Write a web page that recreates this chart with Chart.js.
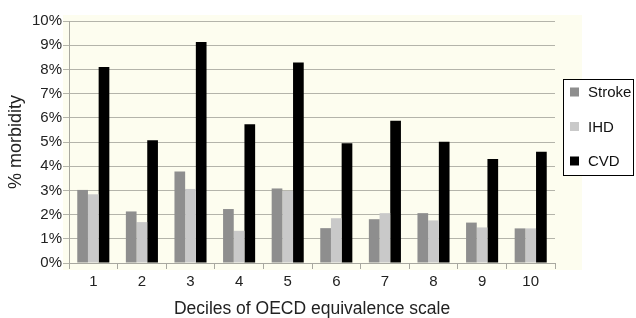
<!DOCTYPE html>
<html>
<head>
<meta charset="utf-8">
<script src="https://cdn.jsdelivr.net/npm/chart.js@4.4.1/dist/chart.umd.min.js"></script>
<style>
html,body{margin:0;padding:0;background:#fff;}
#wrap{width:636px;height:318px;position:relative;}
</style>
</head>
<body>
<div id="wrap"><canvas id="c" width="636" height="318"></canvas></div>
<script>
const categories = ['1','2','3','4','5','6','7','8','9','10'];
const strokeValues = [3.02, 2.13, 3.78, 2.23, 3.08, 1.44, 1.81, 2.06, 1.67, 1.43];
const ihdValues    = [2.84, 1.69, 3.06, 1.33, 2.98, 1.85, 2.06, 1.76, 1.47, 1.43];
const cvdValues    = [8.10, 5.07, 9.13, 5.73, 8.28, 4.95, 5.88, 5.01, 4.30, 4.60];
const seriesNames  = ['Stroke', 'IHD', 'CVD'];
const seriesColors = ['#8e8e8e', '#c9c9c9', '#000000'];
const yTicks = [0,1,2,3,4,5,6,7,8,9,10];

const FONT = '"Liberation Sans", Arial, Helvetica, sans-serif';

const panelBg = {
  id: 'panelBg',
  beforeDraw(chart) {
    const ctx = chart.ctx;
    const a = chart.chartArea;
    ctx.save();
    ctx.fillStyle = '#fdfdef';
    ctx.fillRect(a.left - 6, a.top - 6, (a.right - a.left) + 33, (a.bottom - a.top) + 13);
    ctx.restore();
  }
};

const boxLegend = {
  id: 'boxLegend',
  afterDraw(chart) {
    const ctx = chart.ctx;
    const a = chart.chartArea;
    const x = a.right + 8, y = a.top + 58, w = 70, h = 96;
    ctx.save();
    ctx.fillStyle = '#ffffff';
    ctx.fillRect(x, y, w, h);
    ctx.strokeStyle = '#000';
    ctx.lineWidth = 1;
    ctx.strokeRect(x + 0.5, y + 0.5, w, h);
    ctx.font = '15px ' + FONT;
    ctx.textBaseline = 'middle';
    ctx.fillStyle = '#111';
    chart.data.datasets.forEach((ds, i) => {
      const cy = y + 13 + i * 34.5;
      ctx.fillStyle = ds.backgroundColor;
      ctx.fillRect(x + 7, cy - 4.5, 9, 9);
      ctx.fillStyle = '#111';
      ctx.fillText(ds.label, x + 25, cy + 1);
    });
    ctx.restore();
  }
};

new Chart(document.getElementById('c'), {
  type: 'bar',
  data: {
    labels: categories,
    datasets: [
      { label: seriesNames[0], data: strokeValues, backgroundColor: seriesColors[0] },
      { label: seriesNames[1], data: ihdValues, backgroundColor: seriesColors[1] },
      { label: seriesNames[2], data: cvdValues, backgroundColor: seriesColors[2] }
    ]
  },
  options: {
    responsive: false,
    animation: false,
    devicePixelRatio: 1,
    layout: { padding: { top: 21, right: 81, left: 0, bottom: 0 } },
    datasets: { bar: { categoryPercentage: 0.66, barPercentage: 1.0, borderWidth: 0 } },
    plugins: { legend: { display: false }, tooltip: { enabled: false } },
    scales: {
      x: {
        offset: true,
        grid: { drawOnChartArea: false, drawTicks: true, tickLength: 6, color: '#a8a8a0', offset: true },
        border: { color: '#a8a8a0' },
        ticks: { color: '#222', font: { family: FONT, size: 15 }, padding: 4 },
        title: { display: true, text: 'Deciles of OECD equivalence scale', color: '#222',
                 font: { family: FONT, size: 17.5, lineHeight: 1 }, padding: { top: 0, bottom: 0 } },
        afterFit(s) { s.height = 55; }
      },
      y: {
        min: 0, max: 10,
        afterBuildTicks(s) { s.ticks = yTicks.map(v => ({ value: v })); },
        grid: { color: '#b4b4aa', tickLength: 6, lineWidth: 1 },
        border: { color: '#a8a8a0' },
        ticks: { color: '#222', font: { family: FONT, size: 15 }, padding: 1,
                 callback: v => v + '%' },
        title: { display: true, text: '% morbidity', color: '#222',
                 font: { family: FONT, size: 18, lineHeight: 1.2 }, padding: { top: 5, bottom: 0 } },
        afterFit(s) { s.width = 69; }
      }
    }
  },
  plugins: [panelBg, boxLegend]
});
</script>
</body>
</html>
